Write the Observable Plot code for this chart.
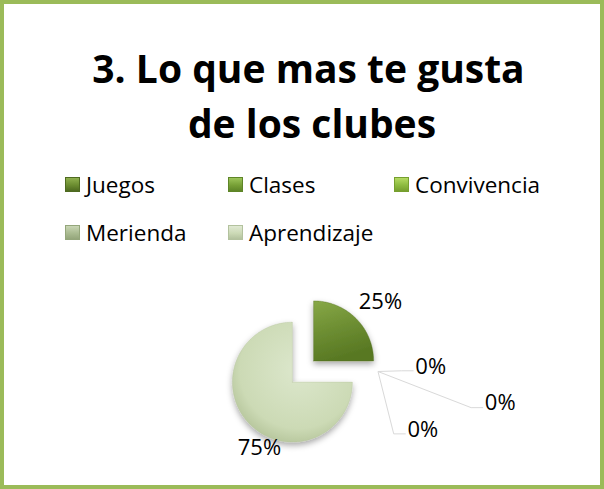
<!DOCTYPE html>
<html><head><meta charset="utf-8">
<script src="https://cdn.jsdelivr.net/npm/d3@7"></script>
<script src="https://cdn.jsdelivr.net/npm/@observablehq/plot@0.6"></script>
<style>
html,body{margin:0;padding:0;background:#fff;}
#chart{position:relative;width:604px;height:489px;overflow:hidden;font-family:"Open Sans",sans-serif;color:#000;}
#frame{position:absolute;left:0;top:0;width:604px;height:489px;box-sizing:border-box;border:4px solid #9BBB59;pointer-events:none;}
.tline{position:absolute;left:0;font-weight:700;font-size:39px;line-height:39px;white-space:nowrap;text-align:center;}
.leg{position:absolute;font-size:22.5px;line-height:22px;white-space:nowrap;}
.sw{position:absolute;width:15px;height:15px;box-sizing:border-box;}
#pie{position:absolute;left:0;top:260px;}
</style></head><body>
<div id="chart"><div id="pie"></div><div id="frame"></div></div>
<script>
// ---- data ----
const titleLines = ["3. Lo que mas te gusta", "de los clubes"];
const categories = ["Juegos", "Clases", "Convivencia", "Merienda", "Aprendizaje"];
const values = [25, 0, 0, 0, 75];
const valueLabels = ["25%", "0%", "0%", "0%", "75%"];

// ---- style / layout ----
const sliceBase = ["#6B8C30", "#77A036", "#8DBB3F", "#AABB91", "#CCDAB6"];
const swatchTop = ["#8FB04E", "#9CC459", "#B4DA62", "#C9D6B5", "#E0E9D3"];
const swatchBot = ["#4E6A20", "#5E8527", "#769F2E", "#94A67B", "#B3C29E"];
const legendCols = [65, 228, 394];
const legendRows = [177, 225];
// label placement: [angle in degrees clockwise from 12 o'clock, distance in radii]
const labelPlacement = [[47.9, 1.74], [87.8, 2.13], [99.2, 3.33], [115.9, 2.22], [209.8, 1.46]];

const chart = document.getElementById("chart");

// title
const titleTops = [48, 103];
const titleWidths = [617, 624];
titleLines.forEach((t, i) => {
  const d = document.createElement("div");
  d.className = "tline";
  d.style.top = titleTops[i] + "px";
  d.style.width = titleWidths[i] + "px";
  d.textContent = t;
  chart.appendChild(d);
});

// legend
categories.forEach((c, i) => {
  const col = i % 3, row = Math.floor(i / 3);
  const x = legendCols[col], y = legendRows[row];
  const sw = document.createElement("div");
  sw.className = "sw";
  sw.style.left = x + "px";
  sw.style.top = y + "px";
  sw.style.background = `linear-gradient(to bottom, ${swatchTop[i]}, ${sliceBase[i]} 55%, ${swatchBot[i]})`;
  sw.style.border = `1px solid ${swatchBot[i]}`;
  chart.appendChild(sw);
  const t = document.createElement("div");
  t.className = "leg";
  t.style.left = (x + 21) + "px";
  t.style.top = (y - 3.5) + "px";
  t.textContent = c;
  chart.appendChild(t);
});

// pie
const R = 60, W = 604, H = 229;
const cx = 302.5, cy = 371 - 260;
const total = d3.sum(values);
const explode = 0.25;
let acc = 0;
const slices = categories.map((c, i) => {
  const a0 = acc / total * 2 * Math.PI;
  acc += values[i];
  const a1 = acc / total * 2 * Math.PI;
  return {c, i, v: values[i], a0, a1, label: valueLabels[i]};
});

const marks = [];
slices.forEach(s => {
  if (s.v <= 0) return;
  const mid = (s.a0 + s.a1) / 2;
  const ox = explode * Math.sin(mid), oy = explode * Math.cos(mid);
  const pts = [{x: ox, y: oy}];
  const n = Math.max(8, Math.round((s.a1 - s.a0) * 60));
  for (let k = 0; k <= n; k++) {
    const a = s.a0 + (s.a1 - s.a0) * k / n;
    pts.push({x: ox + Math.sin(a), y: oy + Math.cos(a)});
  }
  pts.push({x: ox, y: oy});
  marks.push(Plot.line(pts, {x: "x", y: "y", fill: `url(#g${s.i})`, stroke: swatchBot[s.i], strokeWidth: 0.6, strokeOpacity: 0.6}));
});

// labels and leader lines
const labelData = slices.map(s => {
  const [deg, dist] = labelPlacement[s.i];
  const a = deg * Math.PI / 180;
  return {...s, lx: dist * Math.sin(a), ly: dist * Math.cos(a)};
});
const half = 0.255;
const segs = [];
labelData.filter(d => d.v <= 0).forEach(d => {
  const sx = (1 + explode) * Math.sin(d.a0), sy = (1 + explode) * Math.cos(d.a0);
  const ex = d.lx - half - 0.03, ey = d.ly - 0.07;
  const bx = ex - 0.2;
  segs.push({x1: sx, y1: sy, x2: bx, y2: ey});
  segs.push({x1: bx, y1: ey, x2: ex, y2: ey});
});
marks.push(Plot.link(segs, {x1: "x1", y1: "y1", x2: "x2", y2: "y2", stroke: "#D9D9D9", strokeWidth: 1}));
marks.push(Plot.text(labelData, {x: "lx", y: "ly", text: "label", fontSize: 22, fill: "#000", textAnchor: "middle", lineAnchor: "middle"}));

const svg = Plot.plot({
  width: W, height: H, margin: 0,
  x: {domain: [-cx / R, (W - cx) / R], axis: null},
  y: {domain: [-(H - cy) / R, cy / R], axis: null},
  style: {background: "transparent", fontFamily: "Open Sans", overflow: "visible"},
  marks
});

d3.select(svg).insert("defs", ":first-child").html(`
  <linearGradient id="g0" x1="0" y1="0" x2="0.3" y2="1">
    <stop offset="0" stop-color="#87A847"/>
    <stop offset="0.5" stop-color="#6E8F33"/>
    <stop offset="1" stop-color="#587823"/>
  </linearGradient>
  <radialGradient id="g4" cx="0.55" cy="0.4" r="0.65">
    <stop offset="0" stop-color="#DCE7CC"/>
    <stop offset="0.75" stop-color="#CCDAB5"/>
    <stop offset="1" stop-color="#B2C297"/>
  </radialGradient>
  <filter id="sh" x="-30%" y="-30%" width="160%" height="160%">
    <feDropShadow dx="0" dy="3" stdDeviation="3" flood-color="#000" flood-opacity="0.35"/>
  </filter>
`);
d3.select(svg).selectAll('g[aria-label="line"] path').attr("filter", "url(#sh)");

document.getElementById("pie").appendChild(svg);
</script>
</body></html>
